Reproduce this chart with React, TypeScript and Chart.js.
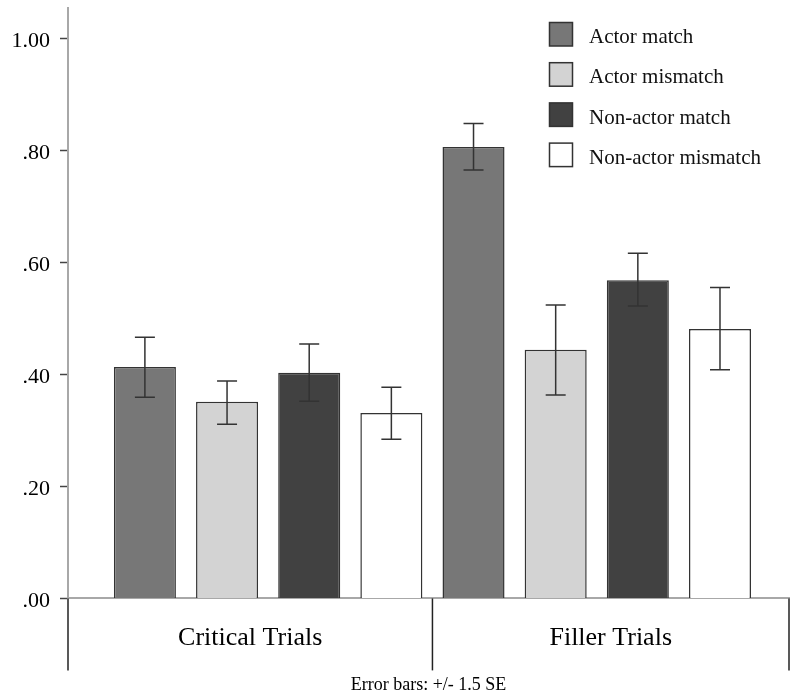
import React, { useEffect, useRef } from 'react';
import { Chart, registerables } from 'chart.js';

Chart.register(...registerables);

// ---- data ----
const CATEGORIES = ['Critical Trials', 'Filler Trials'];
const SERIES_NAMES = ['Actor match', 'Actor mismatch', 'Non-actor match', 'Non-actor mismatch'];

const ACTOR_MATCH = [0.413, 0.806];
const ACTOR_MISMATCH = [0.351, 0.444];
const NONACTOR_MATCH = [0.403, 0.568];
const NONACTOR_MISMATCH = [0.331, 0.481];

const ACTOR_MATCH_HI = [0.466, 0.848];
const ACTOR_MATCH_LO = [0.359, 0.765];
const ACTOR_MISMATCH_HI = [0.388, 0.524];
const ACTOR_MISMATCH_LO = [0.311, 0.363];
const NONACTOR_MATCH_HI = [0.454, 0.616];
const NONACTOR_MATCH_LO = [0.352, 0.522];
const NONACTOR_MISMATCH_HI = [0.377, 0.555];
const NONACTOR_MISMATCH_LO = [0.284, 0.408];

const Y_TICKS = [0, 0.2, 0.4, 0.6, 0.8, 1.0];
const Y_TICK_LABELS = ['.00', '.20', '.40', '.60', '.80', '1.00'];
const FOOTNOTE = 'Error bars: +/- 1.5 SE';

// ---- style ----
const SERIF = "'Liberation Serif', 'Times New Roman', serif";
const FILLS = ['#777777', '#d3d3d3', '#414141', '#ffffff'];
const BORDER = '#333333';

const VALUES = [ACTOR_MATCH, ACTOR_MISMATCH, NONACTOR_MATCH, NONACTOR_MISMATCH];
const HIGHS = [ACTOR_MATCH_HI, ACTOR_MISMATCH_HI, NONACTOR_MATCH_HI, NONACTOR_MISMATCH_HI];
const LOWS = [ACTOR_MATCH_LO, ACTOR_MISMATCH_LO, NONACTOR_MATCH_LO, NONACTOR_MISMATCH_LO];

const annotPlugin = {
  id: 'annot',
  afterDatasetsDraw(chart: any) {
    const ctx = chart.ctx;
    const ys = chart.scales.y;
    ctx.save();
    ctx.strokeStyle = '#333333';
    ctx.lineWidth = 1.5;
    chart.data.datasets.forEach((ds: any, di: number) => {
      const meta = chart.getDatasetMeta(di);
      meta.data.forEach((bar: any, i: number) => {
        const hi = ys.getPixelForValue(ds.errHigh[i]);
        const lo = ys.getPixelForValue(ds.errLow[i]);
        const x = bar.x;
        ctx.beginPath();
        ctx.moveTo(x, hi);
        ctx.lineTo(x, lo);
        ctx.moveTo(x - 10, hi);
        ctx.lineTo(x + 10, hi);
        ctx.moveTo(x - 10, lo);
        ctx.lineTo(x + 10, lo);
        ctx.stroke();
      });
    });
    ctx.restore();
  },
  afterDraw(chart: any) {
    const ctx = chart.ctx;
    const xs = chart.scales.x;
    const area = chart.chartArea;
    ctx.save();
    // category dividers below the axis
    ctx.strokeStyle = '#222222';
    ctx.lineWidth = 1.5;
    [xs.min, 0.5, xs.max].forEach((v: number) => {
      const px = xs.getPixelForValue(v);
      ctx.beginPath();
      ctx.moveTo(px, area.bottom);
      ctx.lineTo(px, area.bottom + 72);
      ctx.stroke();
    });
    // legend
    const lx = area.right - 239.5;
    const ly = area.top + 14.5;
    ctx.font = `21px ${SERIF}`;
    ctx.textAlign = 'left';
    ctx.textBaseline = 'alphabetic';
    chart.data.datasets.forEach((ds: any, i: number) => {
      const top = ly + i * 40.2;
      ctx.fillStyle = ds.backgroundColor;
      ctx.fillRect(lx, top, 23, 23.5);
      ctx.strokeStyle = BORDER;
      ctx.lineWidth = 1.5;
      ctx.strokeRect(lx, top, 23, 23.5);
      ctx.fillStyle = '#111111';
      ctx.fillText(ds.label, lx + 39.5, top + 20.7);
    });
    ctx.restore();
  },
};

export default function App() {
  const ref = useRef<HTMLCanvasElement | null>(null);

  useEffect(() => {
    document.body.style.margin = '0';
    const canvas = ref.current;
    if (!canvas) return;
    const datasets = SERIES_NAMES.map((name, di) => ({
      label: name,
      data: VALUES[di].map((v, i) => ({ x: i, y: v })),
      errHigh: HIGHS[di],
      errLow: LOWS[di],
      backgroundColor: FILLS[di],
      borderColor: BORDER,
      borderWidth: 1.5,
      categoryPercentage: 1,
      barPercentage: 0.755,
    }));

    const chart = new Chart(canvas, {
      type: 'bar',
      data: { datasets } as any,
      plugins: [annotPlugin],
      options: {
        responsive: false,
        animation: false,
        layout: { padding: { top: 8, right: 4, left: 0, bottom: 0 } },
        plugins: {
          legend: { display: false },
          tooltip: { enabled: false },
          title: {
            display: true,
            position: 'bottom',
            fullSize: false,
            text: FOOTNOTE,
            color: '#000000',
            font: { family: SERIF, size: 18, weight: 'normal' },
            padding: { top: 0, bottom: 4 },
          },
        },
        scales: {
          x: {
            type: 'linear',
            offset: false,
            min: -0.609,
            max: 1.585,
            grid: { display: false, drawTicks: false, offset: false },
            border: { display: true, color: '#a8a8a8', width: 2 },
            afterBuildTicks: (s: any) => {
              s.ticks = [{ value: (s.min + 0.5) / 2 }, { value: (0.5 + s.max) / 2 }];
            },
            afterFit: (s: any) => {
              s.height = 76;
              s.paddingLeft = 0;
              s.paddingRight = 0;
              s.paddingTop = 0;
              s.paddingBottom = 0;
            },
            ticks: {
              autoSkip: false,
              maxRotation: 0,
              padding: 24,
              color: '#000000',
              font: { family: SERIF, size: 26 },
              callback: (_v: any, i: number) => CATEGORIES[i],
            },
          },
          y: {
            type: 'linear',
            min: 0,
            max: 1.054,
            grid: {
              drawOnChartArea: false,
              drawTicks: true,
              tickLength: 8,
              tickColor: '#444444',
              tickWidth: 1.5,
            },
            border: { display: true, color: '#a8a8a8', width: 2 },
            afterBuildTicks: (s: any) => {
              s.ticks = Y_TICKS.map((v) => ({ value: v }));
            },
            afterFit: (s: any) => {
              s.width = 68;
              s.paddingTop = 0;
              s.paddingBottom = 0;
              s.paddingLeft = 0;
              s.paddingRight = 0;
            },
            ticks: {
              padding: 10,
              labelOffset: 2.5,
              color: '#000000',
              font: { family: SERIF, size: 22 },
              callback: (_v: any, i: number) => Y_TICK_LABELS[i],
            },
          },
        },
      } as any,
    });
    return () => chart.destroy();
  }, []);

  return (
    <div style={{ position: 'absolute', left: 0, top: 0, width: 793, height: 700, background: '#ffffff' }}>
      <canvas ref={ref} width={793} height={700} />
    </div>
  );
}
